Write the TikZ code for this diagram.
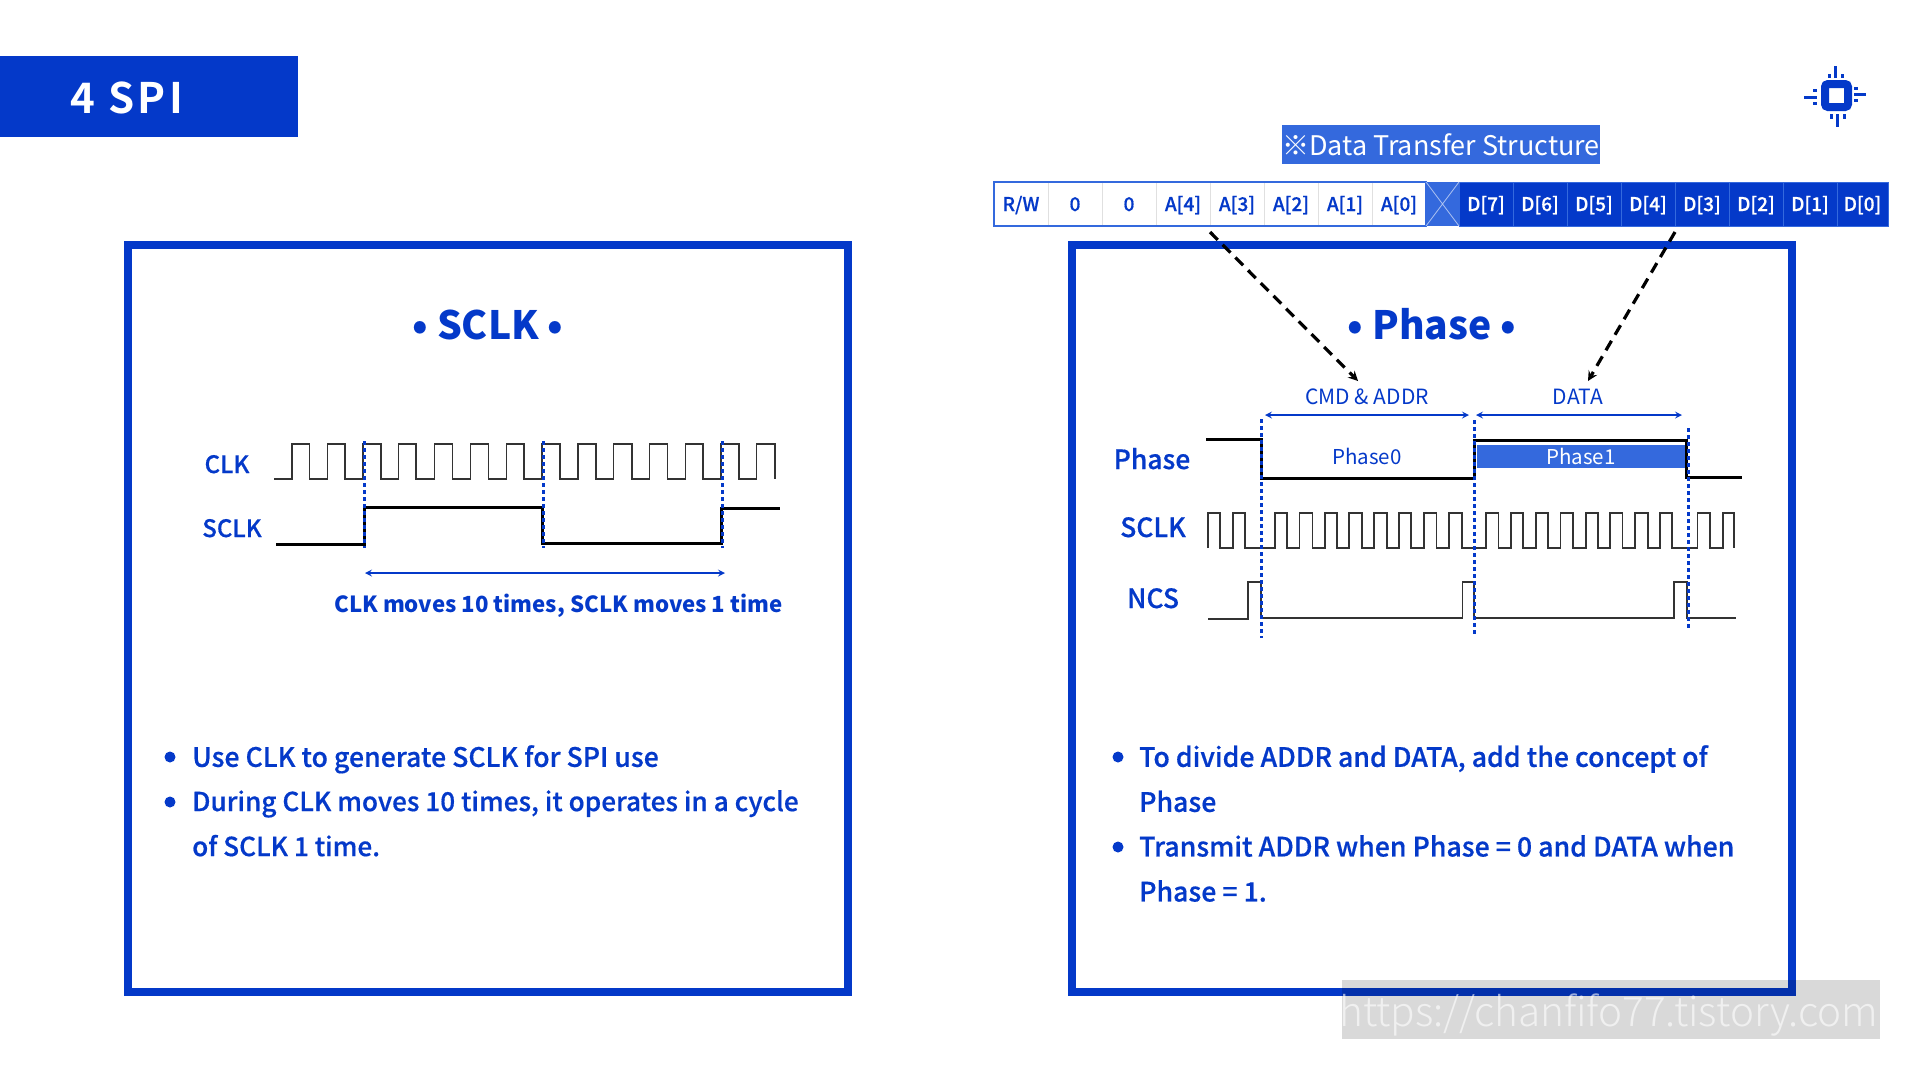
\documentclass[tikz,border=0pt]{standalone}
\usepackage{fontspec}
\setmainfont{Noto Sans CJK KR}
\newfontfamily\medfont[FakeBold=0.5]{Noto Sans CJK KR Medium}
\newfontfamily\thinfont{Noto Sans CJK KR Light}
\newfontfamily\spacedfont[LetterSpace=8]{Noto Sans CJK KR Bold}
\usetikzlibrary{arrows, positioning}
\definecolor{spiblue}{HTML}{0439C9}
\definecolor{spilight}{HTML}{3469DD}
\tikzstyle{panel} = [rectangle, draw=spiblue, line width=8pt, minimum width=720pt, minimum height=747pt, outer sep=0pt]
\tikzstyle{headline} = [text=spiblue, text height=28pt, text depth=0pt, font=\fontsize{39}{39}\bfseries\selectfont]
\tikzstyle{siglabel} = [text=spiblue, text height=18pt, text depth=0pt, font=\fontsize{26.5}{27}\medfont\selectfont]
\tikzstyle{bitcell} = [rectangle, draw=black!12, line width=0.8pt, fill=white, minimum width=54pt, minimum height=44pt, inner sep=0pt, outer sep=0pt, text=spiblue, text height=14pt, text depth=0pt, font=\fontsize{19}{19}\medfont\selectfont]
\tikzstyle{databit} = [bitcell, draw=spilight, fill=spiblue, text=white]
\tikzstyle{spanlabel} = [text=spiblue, text height=15pt, text depth=0pt, font=\fontsize{21}{21}\selectfont]
\tikzstyle{bodytext} = [anchor=north west, align=left, inner sep=0pt, text=spiblue, font=\fontsize{26.7}{45}\medfont\selectfont]
\tikzstyle{bulletdot} = [circle, fill=spiblue, minimum size=11pt, inner sep=0pt]
\tikzstyle{thinwave} = [line width=1.4pt, black!80]
\tikzstyle{thickwave} = [line width=3pt, black]
\tikzstyle{edgemark} = [line width=3pt, spiblue, dash pattern=on 3.5pt off 3.5pt]
\tikzstyle{spanarrow} = [line width=2pt, spiblue, <->, >=stealth]
\tikzstyle{dasharrow} = [line width=3.2pt, black, ->, >=stealth, dash pattern=on 11pt off 7pt]
\tikzstyle{pin} = [line width=3pt, spiblue]

\begin{document}
\begin{tikzpicture}[x=1pt, y=-1pt, node distance=0pt]
        \useasboundingbox (0,0) rectangle (1920,1080);
        % banner and chip mark
        \node[rectangle, fill=spiblue, minimum width=298pt, minimum height=81pt, outer sep=0pt, anchor=north west] (banner) at (0,56) {};
        \node[text=white, text height=31pt, text depth=0pt, font=\fontsize{42}{42}\spacedfont\selectfont] (bannertext) at (127,98) {4 SPI};
        \node[rectangle, rounded corners=3pt, draw=spiblue, line width=8pt, minimum width=23pt, minimum height=23pt, outer sep=0pt] (chip) at (1836.5,95.5) {};
        \draw[pin] (1835,66) -- (1835,78) (1829,74) -- (1829,78) (1842,74) -- (1842,78);
        \draw[pin] (1837,114) -- (1837,127) (1831,114) -- (1831,119) (1844,114) -- (1844,119);
        \draw[pin] (1804,97) -- (1817,97) (1813,90) -- (1817,90) (1813,103) -- (1817,103);
        \draw[pin] (1854,94) -- (1866,94) (1854,88) -- (1858,88) (1854,100) -- (1858,100);

        % the two frames
        \node[panel] (sclkpanel) at (488,618.5) {};
        \node[panel] (phasepanel) at (1432,618.5) {};
        \node[headline] (sclktitle) at (488,325) {• SCLK •};
        \node[headline] (phasetitle) at (1432,325) {• Phase •};

        % transfer structure row
        \node[rectangle, fill=spilight, minimum width=318pt, minimum height=39pt, inner sep=0pt, text=white, text height=22pt, text depth=0pt, font=\fontsize{27}{27}\selectfont] (rowtitle) at (1441,144.5) {※Data Transfer Structure};
        \node[bitcell, anchor=north west] (rw) at (994,182) {R/W};
        \node[bitcell, right=of rw] (zeroa) {0};
        \node[bitcell, right=of zeroa] (zerob) {0};
        \node[bitcell, right=of zerob] (afour) {A[4]};
        \node[bitcell, right=of afour] (athree) {A[3]};
        \node[bitcell, right=of athree] (atwo) {A[2]};
        \node[bitcell, right=of atwo] (aone) {A[1]};
        \node[bitcell, right=of aone] (azero) {A[0]};
        \node[rectangle, right=of azero, fill=spilight, minimum width=33pt, minimum height=44pt, outer sep=0pt] (gap) {};
        \node[databit, right=of gap] (dseven) {D[7]};
        \node[databit, right=of dseven] (dsix) {D[6]};
        \node[databit, right=of dsix] (dfive) {D[5]};
        \node[databit, right=of dfive] (dfour) {D[4]};
        \node[databit, right=of dfour] (dthree) {D[3]};
        \node[databit, right=of dthree] (dtwo) {D[2]};
        \node[databit, right=of dtwo] (done) {D[1]};
        \node[databit, right=of done, minimum width=51pt] (dzero) {D[0]};
        \draw[line width=1.6pt, spilight] (rw.north west) rectangle (azero.south east);
        \draw[line width=0.8pt, white!60!spilight] (gap.north west) -- (gap.south east) (gap.south west) -- (gap.north east);

        % left timing
        \node[siglabel, font=\fontsize{24}{24}\medfont\selectfont] (clklabel) at (227,464) {CLK};
        \node[siglabel, font=\fontsize{24}{24}\medfont\selectfont] (sclklabela) at (232,528) {SCLK};
        \draw[thinwave] (274,479) -- (292,479) |- (309.6,444) |- (327.4,479) |- (345,444) |- (363,479) |- (381,444) |- (398.6,479) |- (416,444) |- (434.5,479) |- (452.7,444) |- (470.5,479) |- (488.3,444) |- (506.5,479) |- (524,444) |- (542,479) |- (560,444) |- (578,479) |- (596,444) |- (613.6,479) |- (632,444) |- (649.6,479) |- (667.4,444) |- (685.5,479) |- (703,444) |- (721,479) |- (739,444) |- (756.7,479) |- (775,444) -- (775,479);
        \draw[thickwave] (276,544) -- (364,544) |- (542,507) |- (721,543) |- (780,508);
        \draw[edgemark] (364,441) -- (364,548);
        \draw[edgemark] (543,441) -- (543,548);
        \draw[edgemark] (722,441) -- (722,548);
        \coordinate (cyclea) at (365,573);
        \coordinate (cycleb) at (725,573);
        \draw[spanarrow] (cyclea) -- (cycleb);
        \node[text=spiblue, anchor=west, inner sep=0pt, text height=16pt, text depth=0pt, font=\fontsize{22.2}{24}\bfseries\selectfont] (cyclenote) at (334,604) {CLK moves 10 times, SCLK moves 1 time};

        % right timing
        \node[spanlabel] (cmdlabel) at (1367,397) {CMD \& ADDR};
        \node[spanlabel] (datalabel) at (1578,397) {DATA};
        \coordinate (cmdleft) at (1265,415);
        \coordinate (cmdright) at (1469,415);
        \coordinate (dataleft) at (1476,415);
        \coordinate (dataright) at (1682,415);
        \draw[spanarrow] (cmdleft) -- (cmdright);
        \draw[spanarrow] (dataleft) -- (dataright);
        \node[siglabel] (phaselabel) at (1152,460) {Phase};
        \node[siglabel] (sclklabelb) at (1153,528) {SCLK};
        \node[siglabel] (ncslabel) at (1153,599) {NCS};
        \node[rectangle, fill=spilight, minimum width=208pt, minimum height=23pt, inner sep=0pt, text=white, text height=15pt, text depth=0pt, font=\fontsize{20.5}{21}\selectfont] (phaseone) at (1581,456.5) {Phase1};
        \node[text=spiblue, inner sep=0pt, text height=15pt, text depth=0pt, font=\fontsize{20.5}{21}\selectfont] (phasezero) at (1367,456.5) {Phase0};
        \draw[thickwave] (1206,439) -- (1261,439) |- (1474,478) |- (1686,440) |- (1742,477);
        \draw[thinwave] (1208,548) |- (1220,513) |- (1233,548) |- (1245,513) |- (1275,548) |- (1287,513) |- (1299.5,548) |- (1312.5,513) |- (1325,548) |- (1337,513) |- (1349,548) |- (1362,513) |- (1374,548) |- (1387,513) |- (1399,548) |- (1411,513) |- (1424,548) |- (1436.5,513) |- (1449,548) |- (1462,513) |- (1486,548) |- (1498.5,513) |- (1511,548) |- (1523,513) |- (1536,548) |- (1548,513) |- (1560.5,548) |- (1573,513) |- (1586,548) |- (1598,513) |- (1610,548) |- (1622.5,513) |- (1635,548) |- (1648,513) |- (1660,548) |- (1672,513) |- (1697.6,548) |- (1710,513) |- (1723,548) |- (1734,513) -- (1734,548);
        \draw[thinwave] (1208,619) -- (1248,619) |- (1261,582) |- (1462.5,618) |- (1474,582) |- (1674,618) |- (1687,582) |- (1736,618);
        \draw[edgemark] (1261,419) -- (1261,638);
        \draw[edgemark] (1474,420) -- (1474,637);
        \draw[edgemark] (1688,428) -- (1688,629);

        % dashed pointers from the row down to the spans
        \coordinate (cmdtip) at (1358,381);
        \coordinate (datatip) at (1588,381);
        \draw[dasharrow] ([yshift=-6pt]afour.south east) -- (cmdtip);
        \draw[dasharrow] ([yshift=-6pt]dfour.south east) -- (datatip);

        % bullet text
        \node[bulletdot] (dota) at (170,757) {};
        \node[bodytext] (texta) at (192,745) {Use CLK to generate SCLK for SPI use};
        \node[bulletdot] (dotb) at (170,802) {};
        \node[bodytext, font=\fontsize{26.2}{45}\medfont\selectfont] (textb) at (192,790) {During CLK moves 10 times, it operates in a cycle\\of SCLK 1 time.};
        \node[bulletdot] (dotc) at (1118,757) {};
        \node[bodytext] (textc) at (1139,745) {To divide ADDR and DATA, add the concept of\\Phase};
        \node[bulletdot] (dotd) at (1118,847) {};
        \node[bodytext] (textd) at (1139,835) {Transmit ADDR when Phase = 0 and DATA when\\Phase = 1.};

        % site mark on top
        \node[rectangle, fill=black, opacity=0.15, minimum width=538pt, minimum height=59pt, outer sep=0pt, anchor=north west] (markbox) at (1342,980) {};
        \node[text=white, opacity=0.6, text height=30pt, text depth=0pt, font=\fontsize{40.5}{41}\thinfont\selectfont] (marktext) at (1609,1011) {https://chanfifo77.tistory.com};
    \end{tikzpicture}
\end{document}
